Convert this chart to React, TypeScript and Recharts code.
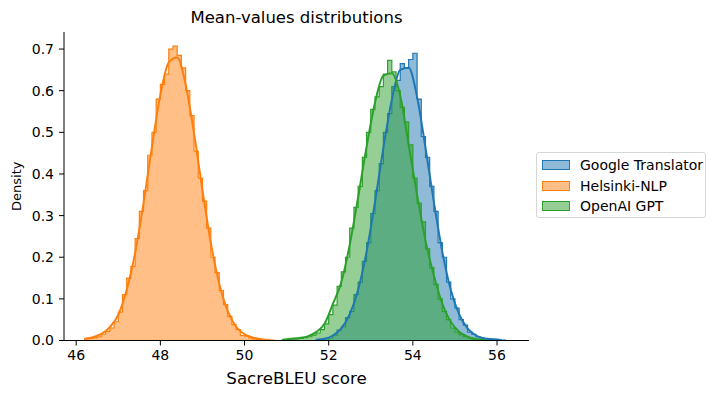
import { Area, ComposedChart, Label, Line, XAxis, YAxis } from "recharts";

const FONT = "'DejaVu Sans', sans-serif";

const seriesNames = ["Google Translator", "Helsinki-NLP", "OpenAI GPT"];
const seriesKeys = ["google", "helsinki", "openai"];
const seriesColors = ["#1f77b4", "#ff7f0e", "#2ca02c"];

// histogram bins (left edge of first bin, then one density per 0.1-wide bin)
const binWidth = 0.1;
const googleBinStart = 51.7;
const googleHist = [
  0.002, 0.003, 0.004, 0.006, 0.013, 0.025, 0.033, 0.055, 0.07, 0.11,
  0.14, 0.19, 0.235, 0.305, 0.36, 0.425, 0.5, 0.545, 0.61, 0.625,
  0.665, 0.655, 0.675, 0.69, 0.58, 0.49, 0.44, 0.37, 0.31, 0.235,
  0.2, 0.14, 0.1, 0.078, 0.05, 0.037, 0.02, 0.015, 0.009, 0.006,
  0.004, 0.003, 0.003, 0.002, 0.001,
];
const helsinkiBinStart = 46.2;
const helsinkiHist = [
  0.004, 0.005, 0.007, 0.009, 0.015, 0.022, 0.03, 0.045, 0.068, 0.11,
  0.15, 0.178, 0.245, 0.31, 0.36, 0.445, 0.5, 0.58, 0.615, 0.64,
  0.7, 0.707, 0.685, 0.655, 0.6, 0.54, 0.455, 0.39, 0.335, 0.27,
  0.2, 0.163, 0.12, 0.086, 0.058, 0.038, 0.026, 0.012, 0.011, 0.006,
  0.004, 0.003, 0.002, 0.0015, 0.001,
];
const openaiBinStart = 50.9;
const openaiHist = [
  0.002, 0.002, 0.003, 0.004, 0.005, 0.007, 0.009, 0.013, 0.018, 0.026,
  0.04, 0.062, 0.085, 0.13, 0.165, 0.2, 0.27, 0.32, 0.37, 0.44,
  0.5, 0.555, 0.585, 0.61, 0.64, 0.673, 0.645, 0.6, 0.56, 0.525,
  0.47, 0.39, 0.33, 0.285, 0.22, 0.175, 0.135, 0.1, 0.07, 0.05,
  0.03, 0.02, 0.014, 0.009, 0.006, 0.004, 0.003, 0.002,
];

// kde curves, sampled every 0.2
const kdeStep = 0.2;
const googleKdeStart = 51.7;
const googleKde = [
  0.002, 0.004, 0.012, 0.029, 0.063, 0.122, 0.213, 0.332, 0.463, 0.578,
  0.65, 0.655, 0.585, 0.463, 0.332, 0.213, 0.122, 0.063, 0.029, 0.012,
  0.005, 0.003, 0.0015,
];
const helsinkiKdeStart = 46.2;
const helsinkiKde = [
  0.004, 0.008, 0.016, 0.032, 0.062, 0.122, 0.21, 0.33, 0.465, 0.59,
  0.668, 0.68, 0.615, 0.498, 0.361, 0.234, 0.136, 0.071, 0.033, 0.015,
  0.007, 0.003, 0.0012,
];
const openaiKdeStart = 50.9;
const openaiKde = [
  0.002, 0.004, 0.006, 0.01, 0.02, 0.04, 0.088, 0.14, 0.23, 0.344,
  0.465, 0.571, 0.636, 0.642, 0.588, 0.47, 0.35, 0.24, 0.156, 0.088,
  0.045, 0.021, 0.009, 0.0035, 0.0015,
];

const xTicks = [46, 48, 50, 52, 54, 56];
const yTicks = [0, 0.1, 0.2, 0.3, 0.4, 0.5, 0.6, 0.7];

type Row = { x: number; [k: string]: number | undefined };

const round = (v: number) => Math.round(v * 1000) / 1000;

function buildRows(): Row[] {
  const rows: Row[] = [];
  const addHist = (key: string, start: number, values: number[]) => {
    const edge = (i: number) => round(start + i * binWidth);
    rows.push({ x: edge(0), [key + "H"]: 0 });
    values.forEach((v, i) => rows.push({ x: edge(i), [key + "H"]: v }));
    rows.push({ x: edge(values.length), [key + "H"]: 0 });
  };
  const addKde = (key: string, start: number, values: number[]) => {
    values.forEach((v, i) => rows.push({ x: round(start + i * kdeStep), [key + "K"]: v }));
  };
  addHist("google", googleBinStart, googleHist);
  addHist("helsinki", helsinkiBinStart, helsinkiHist);
  addHist("openai", openaiBinStart, openaiHist);
  addKde("google", googleKdeStart, googleKde);
  addKde("helsinki", helsinkiKdeStart, helsinkiKde);
  addKde("openai", openaiKdeStart, openaiKde);
  return rows.sort((a, b) => a.x - b.x);
}

const rows = buildRows();

function DensityLabel(props: any) {
  const vb = props.viewBox ?? { x: 0, y: 0, height: 0 };
  const cx = 16;
  const cy = vb.y + vb.height / 2;
  return (
    <text
      x={cx}
      y={cy}
      transform={`rotate(-90 ${cx} ${cy})`}
      textAnchor="middle"
      dominantBaseline="central"
      fontFamily={FONT}
      fontSize={13}
      fill="#000"
    >
      Density
    </text>
  );
}

export default function App() {
  return (
    <div
      style={{
        position: "absolute",
        left: 0,
        top: 0,
        width: 717,
        height: 398,
        background: "#fff",
        fontFamily: FONT,
      }}
    >
      <div
        style={{
          position: "absolute",
          left: 64,
          width: 465,
          top: 8,
          lineHeight: "20px",
          fontSize: 16.5,
          textAlign: "center",
          color: "#000",
        }}
      >
        Mean-values distributions
      </div>
      <ComposedChart
        width={717}
        height={398}
        data={rows}
        margin={{ top: 32, right: 188, bottom: 0, left: 0 }}
      >
        <XAxis
          dataKey="x"
          type="number"
          domain={[45.71, 56.76]}
          ticks={xTicks}
          interval={0}
          allowDataOverflow
          height={57.5}
          tickSize={5}
          tickMargin={4.5}
          tick={{ fill: "#000", fontSize: 14, fontFamily: FONT }}
          axisLine={{ stroke: "#000", strokeWidth: 1 }}
          tickLine={{ stroke: "#000", strokeWidth: 1 }}
        >
          <Label
            value="SacreBLEU score"
            position="insideBottom"
            offset={14}
            style={{ fontSize: 16.7, fontFamily: FONT, fill: "#000" }}
          />
        </XAxis>
        <YAxis
          type="number"
          domain={[0, 0.741]}
          ticks={yTicks}
          interval={0}
          allowDataOverflow
          width={64}
          tickSize={5}
          tickMargin={5}
          tickFormatter={(v: number) => v.toFixed(1)}
          tick={{ fill: "#000", fontSize: 14, fontFamily: FONT }}
          axisLine={{ stroke: "#000", strokeWidth: 1 }}
          tickLine={{ stroke: "#000", strokeWidth: 1 }}
        >
          <Label content={<DensityLabel />} />
        </YAxis>
        {seriesKeys.map((k, i) => (
          <Area
            key={k + "H"}
            type="stepAfter"
            dataKey={k + "H"}
            stroke={seriesColors[i]}
            strokeWidth={1.2}
            fill={seriesColors[i]}
            fillOpacity={0.5}
            connectNulls
            dot={false}
            activeDot={false}
            isAnimationActive={false}
          />
        ))}
        {seriesKeys.map((k, i) => (
          <Line
            key={k + "K"}
            type="monotone"
            dataKey={k + "K"}
            stroke={seriesColors[i]}
            strokeWidth={2}
            connectNulls
            dot={false}
            activeDot={false}
            isAnimationActive={false}
          />
        ))}
      </ComposedChart>
      <div
        style={{
          position: "absolute",
          left: 536,
          top: 152,
          width: 170,
          height: 66,
          border: "1px solid #d6d6d6",
          borderRadius: 3,
          background: "rgba(255,255,255,0.8)",
          boxSizing: "border-box",
        }}
      >
        {seriesNames.map((name, i) => (
          <div
            key={name}
            style={{
              position: "absolute",
              left: 5,
              top: 2 + i * 20.7,
              height: 20,
              display: "flex",
              alignItems: "center",
              fontSize: 14,
              color: "#000",
              whiteSpace: "nowrap",
            }}
          >
            <span
              style={{
                display: "inline-block",
                width: 28,
                height: 10,
                boxSizing: "border-box",
                background: seriesColors[i] + "80",
                border: `1.3px solid ${seriesColors[i]}`,
                marginRight: 10,
              }}
            />
            {name}
          </div>
        ))}
      </div>
    </div>
  );
}
